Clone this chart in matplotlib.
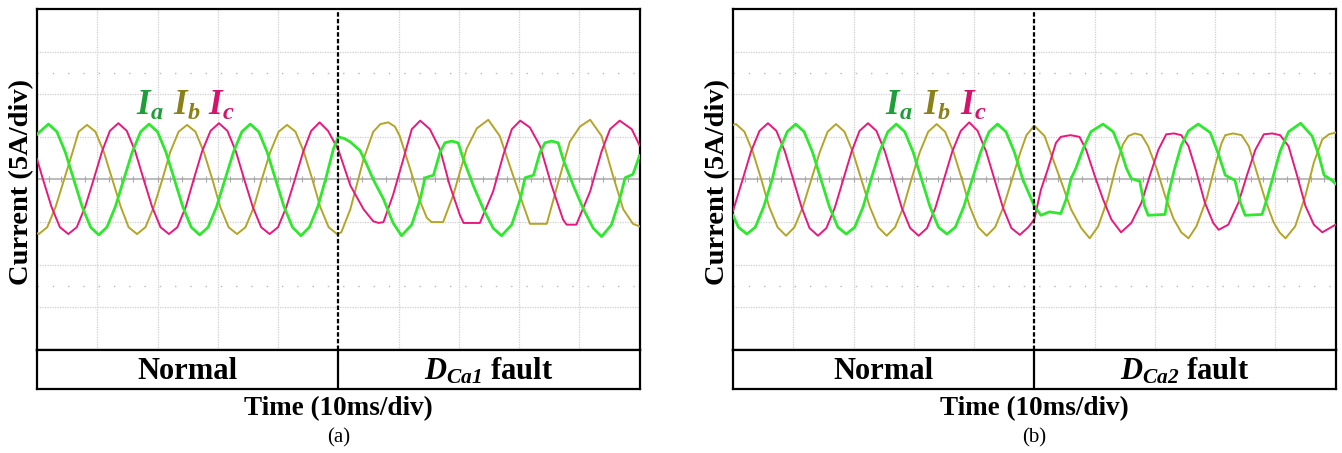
import numpy as np
import matplotlib.pyplot as plt

# ---- data (time in ms, current in A) ----
# panel (a): D_Ca1 fault at t = 50 ms
a_ia_t = [0, 1.9, 3.3, 4.7, 6.1, 7.5, 8.9, 10.25, 11.6, 13.0, 14.4, 15.8, 17.2, 18.6,
          20.0, 21.4, 22.8, 24.2, 25.6, 27.0, 28.4, 29.8, 31.2, 32.6, 34.0, 35.4,
          36.8, 38.2, 39.6, 41.0, 42.4, 43.8, 45.2, 46.6, 48.0, 49.2, 50.0,
          51.0, 52.0, 53.6, 54.7, 55.8, 57.5, 59.1, 60.5, 62.2, 63.6,
          64.4, 65.8, 66.9, 67.7, 68.8, 69.9, 70.75, 72.4, 74.1, 75.7, 77.1,
          78.8, 80.2, 81.0, 82.4, 83.5, 84.3, 85.4, 86.5, 87.3, 89.0, 90.7, 92.3, 93.7,
          95.35, 96.7, 97.6, 98.9, 99.8, 100]
a_ia_v = [5.3, 6.5, 5.6, 3.2, 0, -3.2, -5.6, -6.5, -5.6, -3.2, 0, 3.2, 5.6, 6.5,
          5.6, 3.2, 0, -3.2, -5.6, -6.5, -5.6, -3.2, 0, 3.2, 5.6, 6.5,
          5.6, 3.2, 0, -3.2, -5.6, -6.6, -5.6, -3.2, 0.3, 3.6, 5.0,
          4.8, 4.4, 3.4, 1.8, 0, -2.3, -5.1, -6.6, -5.3, -2.3,
          0.2, 0.5, 3.2, 4.3, 4.5, 4.3, 2.4, -0.7, -3.5, -5.7, -6.6,
          -5.3, -2.3, 0.2, 0.5, 3.2, 4.3, 4.5, 4.3, 2.4, -0.7, -3.5, -5.7, -6.7,
          -5.3, -2.3, 0.2, 0.6, 2.4, 2.8]

a_ib_t = [0, 0.3, 1.7, 3.1, 4.5, 5.9, 6.9, 8.3, 9.7, 11.1, 12.5, 13.9, 15.2, 16.6,
          18.0, 19.4, 20.8, 22.1, 23.5, 24.9, 26.3, 27.7, 29.1, 30.4, 31.8, 33.2,
          34.6, 36.0, 37.3, 38.7, 40.1, 41.5, 42.9, 44.3, 45.7, 47.0, 48.4, 49.8,
          50.5, 52.0, 54.2, 55.8, 57.0, 58.3, 59.4, 60.2, 61.9, 63.6, 64.7, 65.5, 67.4,
          69.1, 71.3, 73.0, 74.9, 76.8, 78.8, 80.7, 81.8, 84.6, 86.2,
          88.4, 90.1, 91.8, 93.7, 95.6, 97.3, 98.9, 100]
a_ib_v = [-6.3, -6.4, -5.6, -3.2, 0, 3.2, 5.6, 6.4, 5.6, 3.2, 0, -3.2, -5.6, -6.4,
          -5.6, -3.2, 0, 3.2, 5.6, 6.4, 5.6, 3.2, 0, -3.2, -5.6, -6.4,
          -5.6, -3.2, 0, 3.2, 5.6, 6.4, 5.6, 3.2, 0, -3.2, -5.6, -6.4,
          -6.2, -3.5, 2.4, 5.6, 6.5, 6.7, 6.2, 5.1, 1.3, -2.6, -4.5, -5.0, -5.0,
          -1.8, 3.6, 6.0, 7.0, 5.1, 0.9, -3.0, -5.2, -5.2, -1.1,
          4.4, 6.2, 7.0, 5.1, 0.4, -3.5, -5.2, -5.5]

a_ic_t = [0, 1.0, 2.4, 3.8, 5.2, 6.6, 8.0, 9.4, 10.8, 12.1, 13.5, 14.9, 16.3, 17.7,
          19.1, 20.5, 21.9, 23.3, 24.7, 26.0, 27.4, 28.8, 30.2, 31.6, 33.0, 34.4,
          35.8, 37.2, 38.6, 40.0, 41.4, 42.8, 44.2, 45.5, 46.9, 48.3,
          50.0, 52.0, 54.2, 55.8, 56.7, 57.5, 59.1, 60.8, 62.2, 63.6, 65.2,
          66.9, 68.5, 70.2, 70.8, 73.5, 75.7, 77.4, 78.8, 80.2, 81.8,
          83.5, 85.4, 87.3, 87.9, 89.5, 91.8, 93.7, 95.1, 96.7, 98.7, 100]
a_ic_v = [2.4, 0, -3.2, -5.6, -6.4, -5.6, -3.2, 0, 3.3, 5.7, 6.6, 5.7, 3.3, 0,
          -3.2, -5.6, -6.4, -5.6, -3.2, 0, 3.3, 5.7, 6.6, 5.7, 3.3, 0,
          -3.2, -5.6, -6.4, -5.6, -3.2, 0, 3.3, 5.7, 6.7, 5.7,
          3.5, -0.7, -3.5, -4.9, -5.1, -5.0, -1.8, 2.4, 5.9, 6.9, 5.9,
          3.5, -0.7, -4.2, -5.1, -5.1, -1.4, 2.9, 5.9, 6.9, 6.1,
          3.9, -0.7, -4.7, -5.3, -5.3, -1.4, 3.3, 5.9, 6.9, 5.9, 4.0]

# panel (b): D_Ca2 fault at t = 50 ms
b_ia_t = [0, 0.9, 2.3, 3.7, 5.1, 6.5, 7.6, 9.0, 10.4, 11.8, 13.2, 14.6, 16.0, 17.4, 18.8,
          20.2, 21.6, 22.9, 24.3, 25.7, 27.1, 28.5, 29.9, 31.3, 32.7, 34.1, 35.5,
          36.9, 38.3, 39.7, 41.1, 42.5, 43.9, 45.3, 46.7, 48.1, 49.2, 50.0,
          51.1, 52.5, 54.4, 55.3, 56.1, 56.9, 58.1, 59.4, 61.4, 63.1, 64.4,
          65.3, 66.1, 67.5, 68.3, 68.9, 71.7, 72.2, 73.3, 74.4, 75.6,
          77.2, 79.2, 80.6, 81.7, 83.3, 84.2, 85.0, 87.8, 88.6, 89.7,
          90.8, 92.2, 94.2, 96.1, 97.2, 98.1, 99.4, 100]
b_ia_v = [-4.2, -5.6, -6.4, -5.6, -3.2, 0, 3.2, 5.6, 6.5, 5.6, 3.2, 0, -3.2, -5.6, -6.4,
          -5.6, -3.2, 0, 3.2, 5.6, 6.5, 5.6, 3.2, 0, -3.2, -5.6, -6.4,
          -5.6, -3.2, 0, 3.2, 5.6, 6.5, 5.6, 3.2, 0, -1.8, -3.1,
          -4.2, -3.8, -4.0, -2.3, 0.1, 1.3, 3.6, 5.6, 6.5, 5.6, 3.3,
          1.3, 0.1, -0.2, -3.1, -4.2, -4.1, -1.9, 1.3, 4.0, 5.7,
          6.5, 5.5, 2.9, 0.5, -0.1, -2.7, -4.2, -4.1, -2.3, 0.5,
          3.3, 5.6, 6.6, 5.1, 2.9, 0.5, -0.1, -0.5]

b_ib_t = [0, 0.5, 1.9, 3.3, 4.7, 6.0, 7.4, 8.8, 10.2, 11.6, 13.0, 14.4, 15.7, 17.1,
          18.5, 19.9, 21.3, 22.7, 24.1, 25.5, 26.9, 28.3, 29.6, 31.0, 32.4, 33.8,
          35.2, 36.6, 38.0, 39.3, 40.7, 42.1, 43.5, 44.9, 46.3, 47.7, 48.7, 50.0,
          51.7, 53.3, 54.7, 56.1, 57.8, 59.2, 60.6, 62.2, 63.6, 64.7,
          65.6, 66.7, 67.8, 68.9, 70.3, 71.7, 73.1, 74.4, 75.6, 76.9,
          78.6, 80.0, 81.1, 81.7, 83.0, 84.4, 85.6, 86.9, 88.3, 89.7,
          90.7, 91.7, 93.3, 95.0, 96.4, 97.8, 98.9, 100]
b_ib_v = [6.4, 6.5, 5.6, 3.2, 0, -3.2, -5.6, -6.6, -5.6, -3.2, 0, 3.2, 5.6, 6.5,
          5.6, 3.2, 0, -3.2, -5.6, -6.6, -5.6, -3.2, 0, 3.2, 5.6, 6.5,
          5.6, 3.2, 0, -3.2, -5.6, -6.6, -5.6, -3.2, 0, 3.2, 5.2, 6.3,
          5.1, 2.0, -0.7, -3.5, -5.7, -6.9, -5.5, -2.3, 1.6, 4.1,
          5.1, 5.4, 5.2, 3.9, 1.3, -1.9, -4.6, -6.2, -6.9, -5.5,
          -2.3, 1.6, 4.3, 5.2, 5.4, 5.2, 3.9, 0.9, -2.3, -5.0,
          -6.2, -6.9, -5.5, -1.9, 2.0, 4.7, 5.3, 5.5]

b_ic_t = [0, 1.6, 3.0, 4.4, 5.8, 7.2, 8.6, 10.0, 11.4, 12.7, 14.1, 15.5, 16.9, 18.3,
          19.7, 21.0, 22.4, 23.8, 25.2, 26.6, 28.0, 29.4, 30.8, 32.2, 33.6, 35.0,
          36.4, 37.8, 39.2, 40.6, 42.0, 43.4, 44.8, 46.2, 47.6, 49.0, 50.0,
          51.1, 52.2, 53.6, 54.4, 56.0, 57.5, 58.6, 60.0, 61.4, 62.8, 64.4,
          66.1, 67.8, 69.2, 70.6, 71.9, 73.2, 74.4, 75.6, 76.9, 78.3,
          79.7, 80.6, 82.2, 83.9, 85.3, 86.7, 88.1, 89.5, 90.8, 92.2,
          93.6, 95.0, 96.4, 97.8, 100]
b_ic_v = [-3.7, 0, 3.3, 5.7, 6.6, 5.7, 3.3, 0, -3.3, -5.7, -6.6, -5.7, -3.3, 0,
          3.3, 5.7, 6.6, 5.7, 3.3, 0, -3.3, -5.7, -6.6, -5.7, -3.3, 0,
          3.3, 5.7, 6.7, 5.7, 3.3, 0, -3.3, -5.7, -6.5, -5.6, -4.7,
          -1.2, 1.1, 4.3, 5.0, 5.2, 5.0, 3.5, 0.5, -2.3, -4.7, -6.2,
          -5.1, -2.7, 0.5, 3.5, 5.3, 5.4, 5.2, 3.9, 0.9, -2.7,
          -5.1, -5.9, -5.3, -2.7, 0.5, 3.5, 5.3, 5.4, 5.2, 3.9,
          0.5, -3.1, -5.3, -6.2, -5.3]

phase_names = [r'$\mathbfit{I}_{\mathbfit{a}}$', r'$\mathbfit{I}_{\mathbfit{b}}$',
               r'$\mathbfit{I}_{\mathbfit{c}}$']
state_labels = ['Normal', r'$\mathbfit{D}_{\mathbfit{Ca1}}$ fault',
                r'$\mathbfit{D}_{\mathbfit{Ca2}}$ fault']

plt.rcParams['font.family'] = ['Liberation Serif', 'DejaVu Serif']
plt.rcParams['mathtext.fontset'] = 'custom'
plt.rcParams['mathtext.rm'] = 'Liberation Serif'
plt.rcParams['mathtext.it'] = 'Liberation Serif:italic'
plt.rcParams['mathtext.bf'] = 'Liberation Serif:bold'
plt.rcParams['mathtext.bfit'] = 'Liberation Serif:italic:bold'

WAVE_COLORS = ['#2ee82e', '#b3a527', '#e8197d']
TEXT_COLORS = ['#1d9e38', '#8c8018', '#d4136d']
GRID_COLOR = '#cfcfcf'


def draw_panel(fig, left, traces, fault_label, tag, label_t):
    """
    draw one oscilloscope panel
    :param fig: figure
    :param left: left edge of the panel in figure coords
    :param traces: list of (t, v) pairs for Ia, Ib, Ic
    :param fault_label: text of the right half of the state box
    :param tag: sub figure tag, e.g. (a)
    :param label_t: time positions of the Ia/Ib/Ic labels
    """
    width = 0.4490
    ax = fig.add_axes([left, 0.2274, width, 0.7528])
    ax.set_xlim(0, 100)
    ax.set_ylim(-20, 20)
    ax.set_xticks([])
    ax.set_yticks([])
    for sp in ax.spines.values():
        sp.set_linewidth(1.6)

    # scope grid
    for t in np.arange(10, 100, 10):
        if t != 50:
            ax.axvline(t, color=GRID_COLOR, lw=0.9, ls=(0, (1, 1)), zorder=1)
    for v in [-15, -10, -5, 5, 10, 15]:
        ax.axhline(v, color=GRID_COLOR, lw=0.9, ls=(0, (1, 1)), zorder=1)
    for v in [-12.5, 12.5]:
        ax.axhline(v, color='#b8b8b8', lw=1.0, ls=(0, (1, 10)), zorder=1)
    ax.axhline(0, color='#a8a8a8', lw=1.1, zorder=1)
    ticks = np.arange(2, 100, 2)
    ax.plot(ticks, np.zeros_like(ticks), ls='none', marker='|', ms=4,
            mew=0.8, color='#a8a8a8', zorder=1)

    # waveforms: Ib, Ic below, Ia on top
    for i in [1, 2, 0]:
        t, v = traces[i]
        ax.plot(t, v, color=WAVE_COLORS[i], lw=2.0 if i == 0 else 1.4,
                solid_joinstyle='round', zorder=3 + (i == 0))
    for i in range(3):
        ax.text(label_t[i], 8.6, phase_names[i], color=TEXT_COLORS[i],
                fontsize=25, ha='center', va='center', zorder=5)

    ax.axvline(50, color='black', lw=1.6, ls=(0, (2, 1)), zorder=6)

    # state box under the scope screen
    box = fig.add_axes([left, 0.1413, width, 0.0861])
    box.set_xlim(0, 100)
    box.set_ylim(0, 1)
    box.set_xticks([])
    box.set_yticks([])
    for sp in box.spines.values():
        sp.set_linewidth(1.6)
    box.axvline(50, color='black', lw=1.6)
    box.text(25, 0.45, state_labels[0], fontsize=22, fontweight='bold',
             ha='center', va='center')
    box.text(75, 0.45, fault_label, fontsize=22, fontweight='bold',
             ha='center', va='center')

    cx = left + width / 2
    fig.text(cx, 0.097, 'Time (10ms/div)', fontsize=19.5, fontweight='bold',
             ha='center', va='center')
    fig.text(cx, 0.033, tag, fontsize=15, ha='center', va='center')
    fig.text(left - 0.0115, 0.598, 'Current (5A/div)', fontsize=20.5,
             fontweight='bold', rotation=90, ha='center', va='center')


fig = plt.figure(figsize=(13.42, 4.53), dpi=100)
draw_panel(fig, 0.02757,
           [(a_ia_t, a_ia_v), (a_ib_t, a_ib_v), (a_ic_t, a_ic_v)],
           state_labels[1], '(a)', [18.8, 24.9, 30.6])
draw_panel(fig, 0.5462,
           [(b_ia_t, b_ia_v), (b_ib_t, b_ib_v), (b_ic_t, b_ic_v)],
           state_labels[2], '(b)', [27.6, 33.8, 39.8])
fig.savefig('out.png', dpi=100)
